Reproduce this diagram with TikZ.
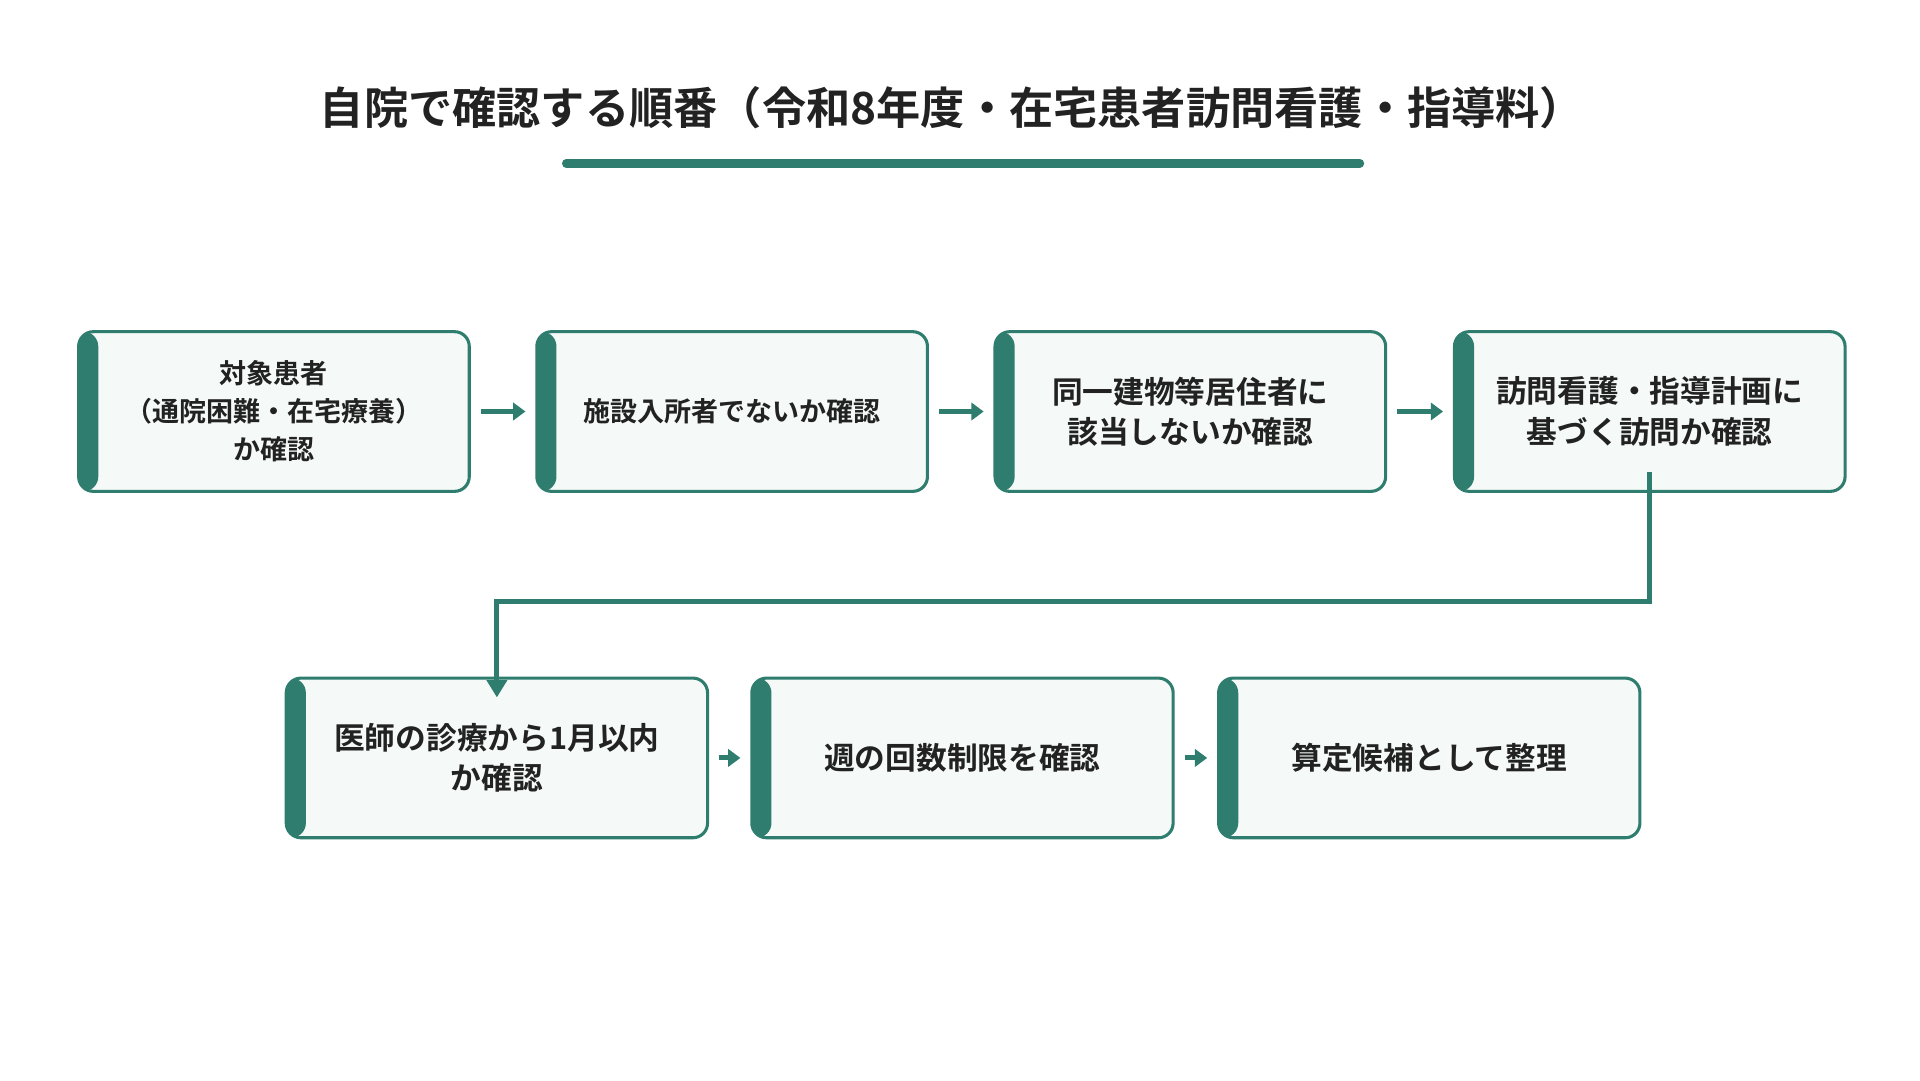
\documentclass[tikz,border=0pt]{standalone}
\usepackage{fontspec}
\setmainfont{Noto Sans CJK JP}[BoldFont={* Bold}]
\usetikzlibrary{arrows.meta}
\definecolor{tl}{HTML}{2E7D6E}
\definecolor{bx}{HTML}{F5FAF8}
\definecolor{tx}{HTML}{222222}
\begin{document}
\begin{tikzpicture}[x=1pt,y=-1pt,
 box/.style={draw=tl,line width=2.5pt,fill=bx,rounded corners=12pt,minimum height=130pt,inner sep=0pt,align=center,text=tx,font=\bfseries\fontsize{22}{31}\selectfont,
   path picture={\fill[tl] (path picture bounding box.south west) rectangle ([xshift=16pt]path picture bounding box.north west);}},
 big/.style={font=\bfseries\fontsize{25}{33}\selectfont},
 ar/.style={draw=tl,line width=4pt,-{Triangle[length=10pt,width=14pt]}}]
\useasboundingbox (0,0) rectangle (1563,880);
\node[font=\bfseries\fontsize{36}{40}\selectfont,text=tx] (t) at (775,88) {自院で確認する順番（令和8年度・在宅患者訪問看護・指導料）};
\draw[tl,line width=7pt,line cap=round] (461,133) coordinate (u1) -- (1107,133) coordinate (u2);
\node[box,minimum width=318pt] (b1) at (223,335) {対象患者\\（通院困難・在宅療養）\\か確認};
\node[box,minimum width=318pt] (b2) at (596,335) {施設入所者でないか確認};
\node[box,big,minimum width=318pt] (b3) at (969,335) {同一建物等居住者に\\該当しないか確認};
\node[box,big,minimum width=318pt] (b4) at (1343,335) {訪問看護・指導計画に\\基づく訪問か確認};
\node[box,big,minimum width=343pt] (c1) at (404.5,617) {医師の診療から1月以内\\か確認};
\node[box,big,minimum width=343pt] (c2) at (783.5,617) {週の回数制限を確認};
\node[box,big,minimum width=343pt] (c3) at (1163.5,617) {算定候補として整理};
\draw[ar] ([xshift=8pt]b1.east) -- ([xshift=-8pt]b2.west);
\draw[ar] ([xshift=8pt]b2.east) -- ([xshift=-8pt]b3.west);
\draw[ar] ([xshift=8pt]b3.east) -- ([xshift=-8pt]b4.west);
\draw[ar] ([xshift=8pt]c1.east) -- ([xshift=-8pt]c2.west);
\draw[ar] ([xshift=8pt]c2.east) -- ([xshift=-8pt]c3.west);
\coordinate (k1) at (1343,490);
\coordinate (k2) at (404.5,490);
\draw[draw=tl,line width=4pt,-{Triangle[length=14pt,width=16pt]}] ([yshift=17pt]b4.south) -- (k1) -- (k2) -- ([yshift=-17pt]c1.north);
\end{tikzpicture}
\end{document}
